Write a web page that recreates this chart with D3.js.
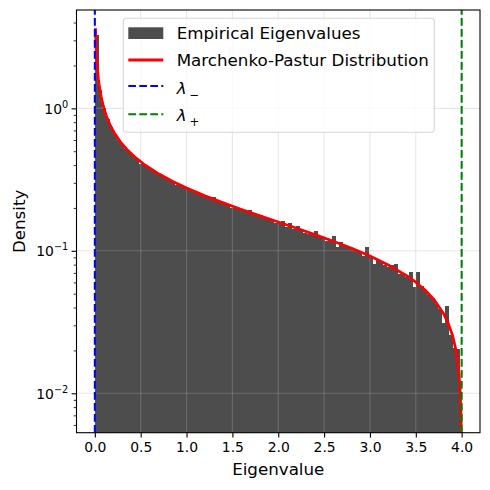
<!DOCTYPE html>
<html><head><meta charset="utf-8">
<script src="https://cdn.jsdelivr.net/npm/d3@7"></script>
<style>
body{margin:0;background:#fff}
svg{display:block}
text{font-family:"DejaVu Sans",sans-serif;fill:#000}
</style>
</head><body>
<svg id="chart" width="490" height="490"></svg>
<script>
// ---------------- data ----------------
const binRange = [0.0, 3.98];           // histogram range (min, max eigenvalue)
const densities = [
  3.25, 1.34, 1.00, 0.84, 0.735, 0.66, 0.60, 0.56, 0.522, 0.49,
  0.465, 0.44, 0.41, 0.398, 0.387, 0.372, 0.358, 0.346, 0.334, 0.323,
  0.313, 0.304, 0.29, 0.287, 0.279, 0.272, 0.265, 0.258, 0.252, 0.246,
  0.240, 0.234, 0.240, 0.224, 0.219, 0.2145, 0.21, 0.199, 0.201, 0.197,
  0.193, 0.189, 0.192, 0.181, 0.178, 0.178, 0.171, 0.170, 0.167, 0.157,
  0.160, 0.162, 0.147, 0.156, 0.142, 0.150, 0.140, 0.133, 0.132, 0.131,
  0.138, 0.128, 0.123, 0.118, 0.117, 0.127, 0.107, 0.115, 0.110, 0.106,
  0.104, 0.101, 0.098, 0.092, 0.107, 0.091, 0.081, 0.086, 0.083, 0.080,
  0.077, 0.080, 0.081, 0.069, 0.068, 0.065, 0.071, 0.056, 0.071, 0.057,
  0.052, 0.049, 0.047, 0.042, 0.039, 0.031, 0.041, 0.0256, 0.0207, 0.0205
];
const mpX = [0.0076, 0.01, 0.015, 0.02, 0.03, 0.04, 0.05, 0.07, 0.1, 0.13, 0.17, 0.22, 0.28, 0.35,
  0.45, 0.55, 0.7, 0.85, 1.0, 1.2, 1.4, 1.6, 1.8, 2.0, 2.2, 2.4, 2.6, 2.8, 3.0, 3.2, 3.4, 3.5,
  3.6, 3.7, 3.8, 3.85, 3.9, 3.93, 3.95, 3.97, 3.98, 3.99, 3.995, 3.999];
const mpY = [3.648, 3.179, 2.594, 2.245, 1.831, 1.584, 1.415, 1.193, 0.9939, 0.8684, 0.7555, 0.6597, 0.5801, 0.5140,
  0.4470, 0.3986, 0.3456, 0.3064, 0.2757, 0.2431, 0.2169, 0.1949, 0.1760, 0.1592, 0.1440, 0.1300, 0.1168, 0.1042, 0.0919, 0.0796, 0.0669, 0.0602,
  0.0531, 0.0453, 0.0365, 0.0314, 0.0255, 0.0212, 0.0179, 0.01384, 0.01128, 0.00797, 0.00563, 0.00252];
const lambdaMinus = 0.0;
const lambdaPlus = 4.0;
const xTicks = [0, 0.5, 1, 1.5, 2, 2.5, 3, 3.5, 4];
const xTickLabels = ["0.0", "0.5", "1.0", "1.5", "2.0", "2.5", "3.0", "3.5", "4.0"];
const yMajorTicks = [0.01, 0.1, 1];
const yTickExponents = ["\u22122", "\u22121", "0"];
const legendLabels = ["Empirical Eigenvalues", "Marchenko-Pastur Distribution"];

// ---------------- layout ----------------
const svg = d3.select("#chart");
const L = 76.5, R = 480, T = 10, B = 432.7;
const x = d3.scaleLinear().domain([-0.2, 4.2]).range([L, R]);
const y = d3.scaleLog().domain([0.00529, 4.9]).range([B, T]);

svg.append("defs").append("clipPath").attr("id", "clip")
  .append("rect").attr("x", L).attr("y", T).attr("width", R - L).attr("height", B - T);

const plot = svg.append("g").attr("clip-path", "url(#clip)");

// bars
const n = densities.length;
const w = (binRange[1] - binRange[0]) / n;
const bins = densities.map((d, i) => ({x0: binRange[0] + i * w, x1: binRange[0] + (i + 1) * w, v: d}));
plot.append("g").selectAll("rect").data(bins).join("rect")
  .attr("x", d => x(d.x0))
  .attr("width", d => x(d.x1) - x(d.x0) + 0.3)
  .attr("y", d => y(d.v))
  .attr("height", d => B - y(d.v))
  .attr("fill", "#4d4d4d")
  .attr("shape-rendering", "crispEdges");

// grid
const grid = plot.append("g").attr("stroke", "#b0b0b0").attr("stroke-opacity", 0.3).attr("stroke-width", 1.1);
grid.selectAll(".gx").data(xTicks).join("line")
  .attr("x1", d => x(d)).attr("x2", d => x(d)).attr("y1", T).attr("y2", B);
grid.selectAll(".gy").data(yMajorTicks).join("line")
  .attr("y1", d => y(d)).attr("y2", d => y(d)).attr("x1", L).attr("x2", R);

// MP curve
const mp = mpX.map((v, i) => [v, mpY[i]]);
plot.append("path").datum(mp)
  .attr("d", d3.line().x(d => x(d[0])).y(d => y(d[1])))
  .attr("fill", "none").attr("stroke", "#ff0000").attr("stroke-width", 2.78)
  .attr("stroke-linejoin", "round");

// lambda lines
[[lambdaMinus, "#0000ff"], [lambdaPlus, "#008000"]].forEach(([v, c]) => {
  plot.append("line").attr("x1", x(v)).attr("x2", x(v)).attr("y1", B).attr("y2", T)
    .attr("stroke", c).attr("stroke-width", 2.08).attr("stroke-dasharray", "7.7,3.3");
});

// axes
const xAxis = svg.append("g").attr("transform", `translate(0,${B})`)
  .call(d3.axisBottom(x).tickValues(xTicks).tickFormat((d, i) => xTickLabels[i]).tickSize(4.9).tickPadding(4.4));
xAxis.select(".domain").remove();
xAxis.selectAll(".tick line").attr("stroke", "#000").attr("stroke-width", 1.1);
xAxis.selectAll(".tick text").attr("font-size", "13.9px").attr("font-family", "DejaVu Sans").attr("fill", "#000");

const yMinor = [];
[0.001, 0.01, 0.1, 1].forEach(dec => { for (let k = 2; k <= 9; k++) { const v = k * dec; if (v > 0.00529 && v < 4.9) yMinor.push(v); } });
const yAxisMinor = svg.append("g").attr("transform", `translate(${L},0)`)
  .call(d3.axisLeft(y).tickValues(yMinor).tickFormat("").tickSize(2.8));
yAxisMinor.select(".domain").remove();
yAxisMinor.selectAll(".tick line").attr("stroke", "#000").attr("stroke-width", 0.83);

const yAxis = svg.append("g").attr("transform", `translate(${L},0)`)
  .call(d3.axisLeft(y).tickValues(yMajorTicks).tickFormat("").tickSize(4.9));
yAxis.select(".domain").remove();
yAxis.selectAll(".tick line").attr("stroke", "#000").attr("stroke-width", 1.1);
yAxis.selectAll(".tick").each(function (d, i) {
  const t = d3.select(this).append("text").attr("x", -8.3).attr("y", 5)
    .attr("text-anchor", "end").attr("font-size", "13.9px");
  t.append("tspan").text("10");
  t.append("tspan").attr("dy", -6).attr("font-size", "9.7px").text(yTickExponents[i]);
});

// spines
svg.append("rect").attr("x", L).attr("y", T).attr("width", R - L).attr("height", B - T)
  .attr("fill", "none").attr("stroke", "#000").attr("stroke-width", 1.1);

// axis labels
svg.append("text").attr("x", (L + R) / 2).attr("y", 475).attr("text-anchor", "middle")
  .attr("font-size", "16.7px").text("Eigenvalue");
svg.append("text").attr("transform", `translate(25,${(T + B) / 2}) rotate(-90)`)
  .attr("text-anchor", "middle").attr("font-size", "16.7px").text("Density");

// legend
const lg = svg.append("g");
lg.append("rect").attr("x", 123.3).attr("y", 18.3).attr("width", 311).attr("height", 114)
  .attr("rx", 3.5).attr("fill", "#fff").attr("fill-opacity", 0.8)
  .attr("stroke", "#cccccc").attr("stroke-opacity", 0.8).attr("stroke-width", 1.1);
const hx0 = 128.3, hx1 = 163.3, tx = 176.7;
lg.append("rect").attr("x", hx0).attr("y", 27.3).attr("width", hx1 - hx0).attr("height", 11.7).attr("fill", "#4d4d4d");
lg.append("text").attr("x", tx).attr("y", 39.3).attr("font-size", "16.7px").text(legendLabels[0]);
lg.append("line").attr("x1", hx0).attr("x2", hx1).attr("y1", 60).attr("y2", 60)
  .attr("stroke", "#ff0000").attr("stroke-width", 2.78);
lg.append("text").attr("x", tx).attr("y", 65.7).attr("font-size", "16.7px").text(legendLabels[1]);
[[86, 94.3, "#0000ff", "\u2212"], [114.3, 121, "#008000", "+"]].forEach(([ly, by, c, sub]) => {
  lg.append("line").attr("x1", hx0).attr("x2", hx1).attr("y1", ly).attr("y2", ly)
    .attr("stroke", c).attr("stroke-width", 2.08).attr("stroke-dasharray", "7.7,3.3");
  const t = lg.append("text").attr("x", tx).attr("y", by).attr("font-size", "16.7px");
  t.append("tspan").attr("font-style", "italic").text("\u03bb");
  t.append("tspan").attr("dx", 3).attr("dy", 4.5).attr("font-size", "11.7px").text(sub);
});
</script>
</body></html>
